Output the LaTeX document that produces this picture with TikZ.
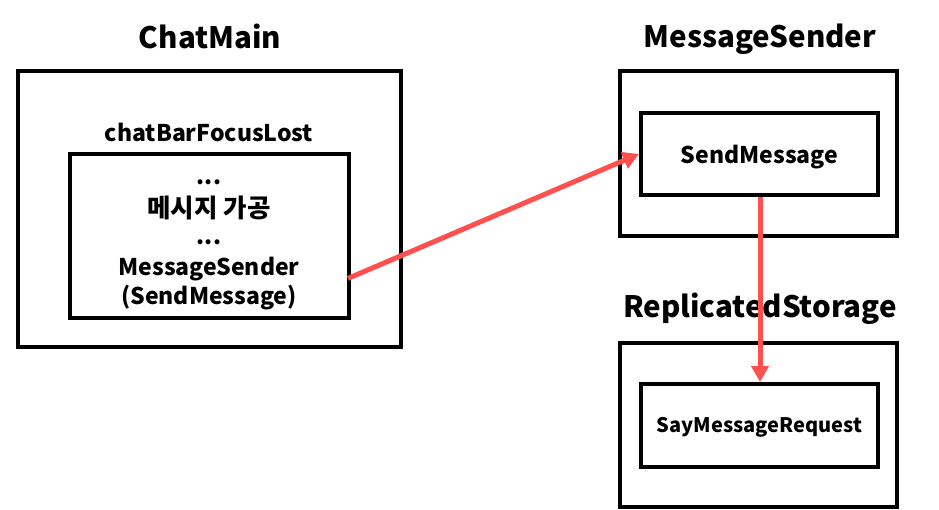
\documentclass[tikz,border=0pt]{standalone}
\usepackage{fontspec}
\setmainfont{Noto Sans CJK KR}
\usetikzlibrary{arrows.meta}
\definecolor{redarrow}{HTML}{FF4F4F}
\begin{document}
\begin{tikzpicture}[x=1pt,y=-1pt,
  box/.style={draw=black,line width=4pt,fill=white},
  conn/.style={draw=redarrow,line width=5pt,-{Triangle[length=16pt,width=17pt]}},
  txt/.style={font=\bfseries\fontsize{23}{28}\selectfont,inner sep=0pt},
  title/.style={font=\bfseries\fontsize{29.5}{34}\selectfont,inner sep=0pt}]
\useasboundingbox (0,0) rectangle (939,510);
% ChatMain
\node[title] (tcm) at (210,36) {ChatMain};
\draw[box] (18,71) rectangle (401,347);
\node[txt] (tbf) at (209,132) {chatBarFocusLost};
\draw[box] (70,154) rectangle (349,318);
\coordinate (srcpt) at (349,278);
\node[txt] (d1) at (209,182) {...};
\node[txt,font=\bfseries\fontsize{25.5}{30}\selectfont] (kr) at (209,208) {메시지 가공};
\node[txt] (d2) at (209,242) {...};
\node[txt] (ms) at (209,269) {MessageSender};
\node[txt] (sm) at (209,298) {(SendMessage)};
% MessageSender
\node[title] (tms) at (760,39) {MessageSender};
\draw[box] (620,71) rectangle (897,236);
\node[box,minimum width=237pt,minimum height=82pt,txt,inner sep=0pt] (send) at (759.5,154) {\raisebox{-3pt}[\height][\depth]{SendMessage}};
% ReplicatedStorage
\node[title] (trs) at (760,309) {ReplicatedStorage};
\draw[box] (620,343) rectangle (897,507);
\node[box,minimum width=237pt,minimum height=83pt,inner sep=0pt,font=\bfseries\fontsize{20}{24}\selectfont] (say) at (759.5,425.5) {\raisebox{-2pt}[\height][\depth]{SayMessageRequest}};
% connectors
\draw[conn,shorten <=-1pt] (srcpt) -- (send.west);
\draw[conn] (send.south -| 760,0) -- (say.north -| 760,0);
\end{tikzpicture}
\end{document}
